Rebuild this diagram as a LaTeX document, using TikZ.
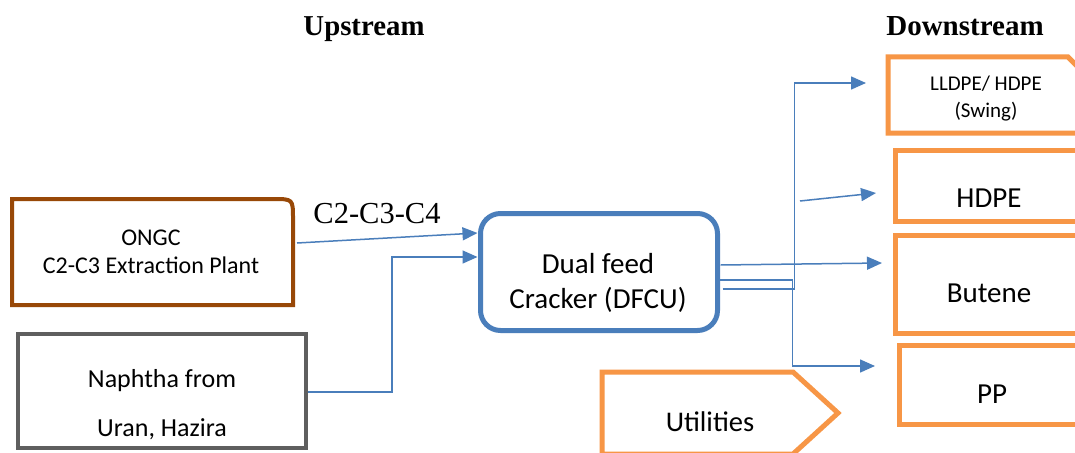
\documentclass[tikz,border=0pt]{standalone}
\usepackage{fontspec}
\setmainfont{Carlito}
\newfontfamily\tnr{Liberation Serif}
\usetikzlibrary{arrows.meta}
\definecolor{blueA}{HTML}{4A7EBB}
\definecolor{orangeA}{HTML}{F79646}
\definecolor{brownA}{HTML}{984807}
\definecolor{grayA}{HTML}{5F5F5F}
\newcommand{\fs}[1]{\fontsize{#1}{#1}\selectfont}
\begin{document}
\begin{tikzpicture}[x=1pt,y=-1pt,
  txt/.style={anchor=base,inner sep=0pt,outer sep=0pt},
  boxshape/.style={inner sep=0pt,outer sep=0pt},
  obox/.style={boxshape,draw=orangeA,line width=5},
  flow/.style={draw=blueA,line width=1.5,-{Triangle[length=15pt,width=13pt]}},
  flowplain/.style={draw=blueA,line width=1.5}]
\useasboundingbox (0,0) rectangle (1075,452);
\fill[white] (0,0) rectangle (1075,452);
\clip (0,0) rectangle (1075,452);

% headings
\node[txt,font=\tnr\bfseries\fs{28.8}] (hup) at (364,36) {Upstream};
\node[txt,font=\tnr\bfseries\fs{29}] (hdown) at (965,36) {Downstream};

% ONGC box
\node[boxshape,minimum width=281,minimum height=106] (ongc) at (152.5,252) {};
\draw[brownA,line width=4] (12,305) -- (12,199) -- (273,199) .. controls (293,199) .. (293,219) -- (293,305) -- cycle;
\node[txt,font=\fs{24}] (ongc1) at (151,245) {ONGC};
\node[txt,font=\fs{24}] (ongc2) at (151,273) {C2-C3 Extraction Plant};

% Naphtha box
\node[boxshape,draw=grayA,line width=4,minimum width=288,minimum height=114] (nap) at (162,391) {};
\node[txt,font=\fs{26}] (nap1) at (162,387) {Naphtha from};
\node[txt,font=\fs{26}] (nap2) at (162,436) {Uran, Hazira};

% DFCU
\node[boxshape,draw=blueA,line width=5,rounded corners=20,minimum width=237,minimum height=117] (dfcu) at (599,272) {};
\node[txt,font=\fs{29}] (dfcu1) at (598,273) {Dual feed};
\node[txt,font=\fs{29}] (dfcu2) at (598,308) {Cracker (DFCU)};

% label
\node[txt,font=\tnr\fs{30.5}] (c234) at (377,223) {C2-C3-C4};

% downstream boxes
\node[boxshape,minimum width=212,minimum height=76] (lldpe) at (994,95) {};
\draw[orangeA,line width=5] (888,133) -- (888,57) -- (1068,57) -- (1144,133) -- cycle;
\node[txt,font=\fs{21}] (lldpe1) at (986,90) {LLDPE/ HDPE};
\node[txt,font=\fs{21}] (lldpe2) at (986,117) {(Swing)};

\node[obox,minimum width=205,minimum height=71] (hdpe) at (997.5,185.5) {};
\node[txt,font=\fs{29}] (hdpet) at (989,207) {HDPE};

\node[obox,minimum width=205,minimum height=98] (butene) at (997.5,284) {};
\node[txt,font=\fs{29}] (butenet) at (989,302) {Butene};

\node[obox,minimum width=201,minimum height=79] (pp) at (999.5,384.5) {};
\node[txt,font=\fs{29}] (ppt) at (992,403) {PP};

% Utilities
\node[boxshape,minimum width=236,minimum height=82] (util) at (720,413) {};
\draw[orangeA,line width=5] (602,454) -- (602,372) -- (793,372) -- (838,413) -- (793,454) -- cycle;
\node[txt,font=\fs{28.5}] (utilt) at (710,431) {Utilities};

% connectors
\draw[flow] ([shift={(4,-9)}]ongc.east) -- ([shift={(-3,-39)}]dfcu.west);
\draw[flow] ([shift={(2,1)}]nap.east) -- ++(84,0) |- ([shift={(-3,-15)}]dfcu.west);

\draw[flow] ([shift={(3,-7)}]dfcu.east) -- ([shift={(-13,-21)}]butene.west);
\draw[flow] ([shift={(2,8)}]dfcu.east) -| ++(73,86) -- ([shift={(-24,-18.5)}]pp.west);
\draw[flow] ([shift={(5,17)}]dfcu.east) -| ++(72,-206) -- ([shift={(-22,-12)}]lldpe.west);
\coordinate (hfree) at (800,201);
\draw[flow] (hfree) -- ([shift={(-19,7.5)}]hdpe.west);
\end{tikzpicture}
\end{document}
